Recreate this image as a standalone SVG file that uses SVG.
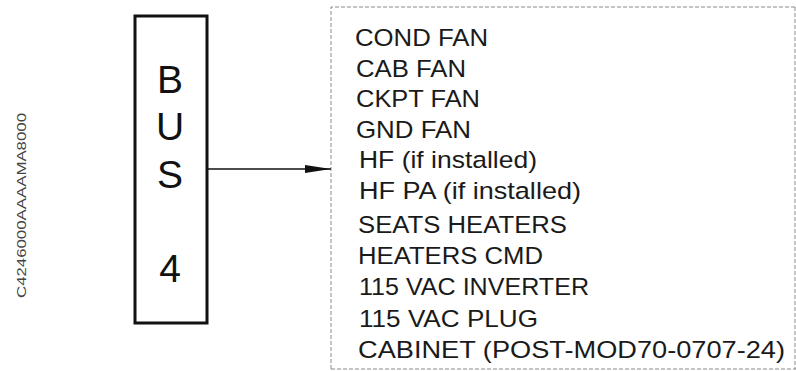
<svg xmlns="http://www.w3.org/2000/svg" width="796" height="371" viewBox="0 0 796 371">
<defs>
<style>
.lbl{font-family:"Liberation Sans",Arial,sans-serif;font-size:24.5px;fill:#1a1a1a}
.bus{font-family:"Liberation Sans",Arial,sans-serif;font-size:39px;fill:#111;text-anchor:middle}
.code{font-family:"Liberation Sans",Arial,sans-serif;font-size:13.5px;fill:#444}
</style>
<marker id="arr" viewBox="0 0 26 8" refX="26" refY="4" markerWidth="26" markerHeight="8" markerUnits="userSpaceOnUse" orient="auto">
<path d="M0,0 L26,4 L0,8 Z" fill="#111"/>
</marker>
</defs>
<rect width="796" height="371" fill="#fff"/>
<text class="code" transform="translate(26,298) rotate(-90)" textLength="185" lengthAdjust="spacingAndGlyphs">C4246000AAAAMA8000</text>
<g id="bus4">
<rect x="135" y="16" width="72" height="307" fill="none" stroke="#111" stroke-width="3"/>
<text class="bus" x="170" y="93">B</text>
<text class="bus" x="170" y="140">U</text>
<text class="bus" x="170" y="188">S</text>
<text class="bus" x="170" y="282">4</text>
</g>
<g id="loads">
<path d="M331,369 L331,7 L796,7 M795,7 L795,369 M331,369 L796,369" fill="none" stroke="#8a8a8a" stroke-width="1" stroke-dasharray="4,2"/>
<text class="lbl" x="355" y="46" textLength="133" lengthAdjust="spacingAndGlyphs">COND FAN</text>
<text class="lbl" x="356" y="77" textLength="110" lengthAdjust="spacingAndGlyphs">CAB FAN</text>
<text class="lbl" x="356" y="107" textLength="124" lengthAdjust="spacingAndGlyphs">CKPT FAN</text>
<text class="lbl" x="356" y="138" textLength="115" lengthAdjust="spacingAndGlyphs">GND FAN</text>
<text class="lbl" x="359" y="168" textLength="178" lengthAdjust="spacingAndGlyphs">HF (if installed)</text>
<text class="lbl" x="359" y="199" textLength="222" lengthAdjust="spacingAndGlyphs">HF PA (if installed)</text>
<text class="lbl" x="358" y="233" textLength="209" lengthAdjust="spacingAndGlyphs">SEATS HEATERS</text>
<text class="lbl" x="358" y="264" textLength="185" lengthAdjust="spacingAndGlyphs">HEATERS CMD</text>
<text class="lbl" x="359" y="295" textLength="230" lengthAdjust="spacingAndGlyphs">115 VAC INVERTER</text>
<text class="lbl" x="359" y="327" textLength="179" lengthAdjust="spacingAndGlyphs">115 VAC PLUG</text>
<text class="lbl" x="358" y="358" textLength="427" lengthAdjust="spacingAndGlyphs">CABINET (POST-MOD70-0707-24)</text>
</g>
<g id="connectors">
<line x1="208" y1="169" x2="331" y2="169" stroke="#111" stroke-width="1.5" marker-end="url(#arr)"/>
</g>
</svg>
